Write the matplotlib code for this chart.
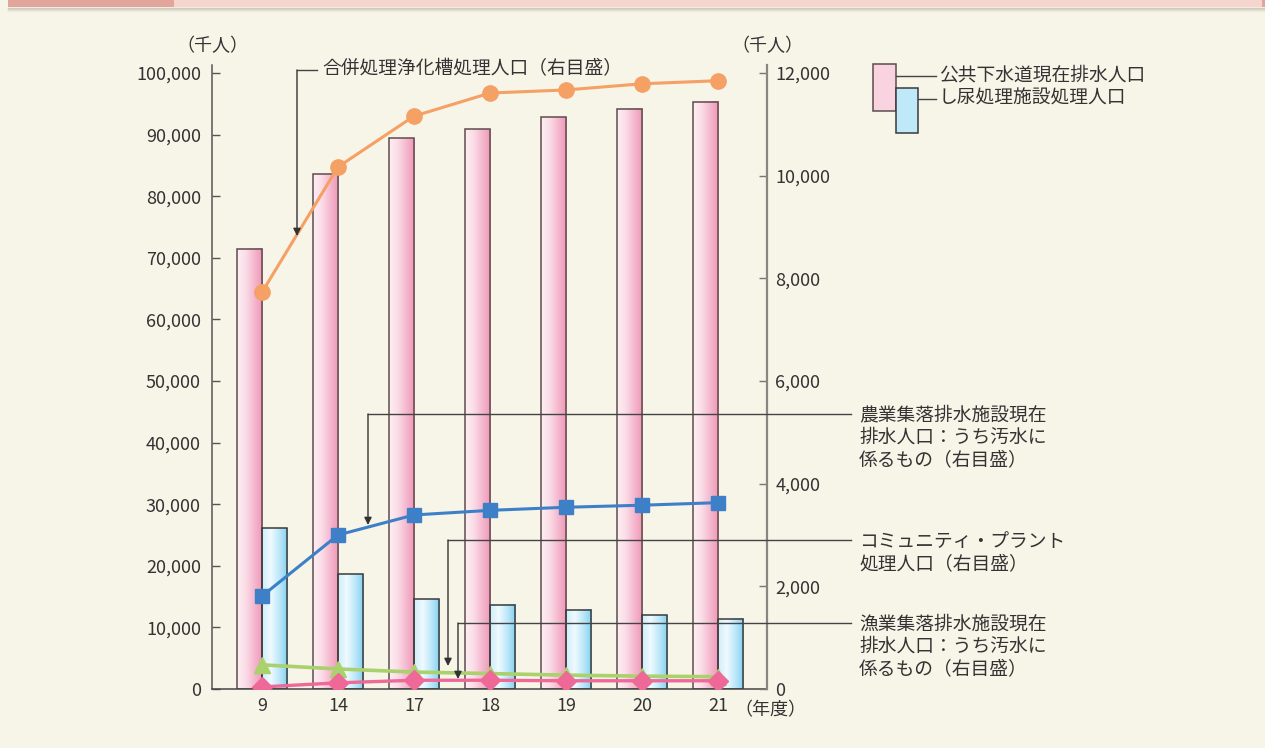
import numpy as np
import matplotlib.pyplot as plt
from matplotlib.colors import LinearSegmentedColormap
from matplotlib.ticker import FuncFormatter
from matplotlib.patches import Rectangle

plt.rcParams['font.family'] = ['Noto Sans CJK JP', 'DejaVu Sans']

# データ（千人）
years = ['9', '14', '17', '18', '19', '20', '21']
kokyo_gesuido = [71500, 83600, 89400, 90900, 92800, 94200, 95300]   # 公共下水道現在排水人口（左目盛）
shinyo_shori = [26100, 18600, 14600, 13700, 12900, 12000, 11400]    # し尿処理施設処理人口（左目盛）
gappei_jokaso = [7730, 10170, 11160, 11610, 11670, 11790, 11850]    # 合併処理浄化槽（右目盛）
nogyo_shuraku = [1810, 3000, 3390, 3480, 3540, 3580, 3630]          # 農業集落排水（右目盛）
community_plant = [470, 390, 330, 300, 270, 250, 240]              # コミュニティ・プラント（右目盛）
gyogyo_shuraku = [40, 120, 170, 170, 160, 160, 160]                 # 漁業集落排水（右目盛）

BG = '#f7f4e8'
TXT = '#333333'

fig = plt.figure(figsize=(12.65, 7.48), dpi=100, facecolor=BG)
ax = fig.add_axes([0.1676, 0.0789, 0.4387, 0.8342])
ax.set_facecolor(BG)

x = np.arange(len(years))
w = 0.33
pink_cmap = LinearSegmentedColormap.from_list('pk', ['#fdeef3', '#fbdde7', '#f5b8ce', '#ef98b8'])
blue_cmap = LinearSegmentedColormap.from_list('bl', ['#cdeefb', '#effafe', '#bde8f9', '#86d1f1'])
grad = np.linspace(0, 1, 64).reshape(1, -1)

def gradient_bars(bars, cmap):
    for r in bars:
        x0, y0 = r.get_xy()
        ax.imshow(grad, extent=[x0, x0 + r.get_width(), y0, y0 + r.get_height()],
                  aspect='auto', cmap=cmap, zorder=1.5, interpolation='bilinear')

b1 = ax.bar(x - w / 2, kokyo_gesuido, w, facecolor='none', edgecolor='#5e4c4c', linewidth=1.1, zorder=2)
b2 = ax.bar(x + w / 2, shinyo_shori, w, facecolor='none', edgecolor='#3a3a3a', linewidth=1.1, zorder=2)
gradient_bars(b1, pink_cmap)
gradient_bars(b2, blue_cmap)

ax.set_xlim(-0.658, 6.645)
ax.set_ylim(0, 101300)
ax.set_yticks(np.arange(0, 100001, 10000))
fmt = FuncFormatter(lambda v, p: f'{int(v):,}')
ax.yaxis.set_major_formatter(fmt)
ax.set_xticks(x)
ax.set_xticklabels(years)
ax.tick_params(axis='x', length=0, pad=6, labelsize=13, colors=TXT)
ax.tick_params(axis='y', direction='in', length=6, width=1, pad=8, labelsize=13,
               colors='#555555', labelcolor=TXT)
for s in ['top', 'right']:
    ax.spines[s].set_visible(False)
ax.spines['left'].set_color('#555555')
ax.spines['bottom'].set_color('#444444')
ax.spines['left'].set_linewidth(1.1)
ax.spines['bottom'].set_linewidth(1.1)

ax2 = ax.twinx()
ax2.set_ylim(0, 12156)
ax2.set_yticks(np.arange(0, 12001, 2000))
ax2.yaxis.set_major_formatter(fmt)
ax2.tick_params(axis='y', direction='in', length=6, width=1, pad=6, labelsize=13,
                colors='#777777', labelcolor=TXT)
for s in ['top', 'left', 'bottom']:
    ax2.spines[s].set_visible(False)
ax2.spines['right'].set_color('#8a8580')
ax2.spines['right'].set_linewidth(1.6)

ax2.plot(x, gappei_jokaso, color='#f5a064', lw=2.2, marker='o', ms=11, zorder=3)
ax2.plot(x, nogyo_shuraku, color='#3d80c8', lw=2.2, marker='s', ms=9.5, zorder=3)
ax2.plot(x, community_plant, color='#a9d16c', lw=2.6, marker='^', ms=11, zorder=3)
ax2.plot(x, gyogyo_shuraku, color='#ee6898', lw=2.4, marker='D', ms=10, zorder=4)

# 注記・凡例（ピクセル座標のオーバーレイ）
ov = fig.add_axes([0, 0, 1, 1], zorder=10)
ov.set_xlim(0, 1265)
ov.set_ylim(748, 0)
ov.axis('off')
ov.patch.set_alpha(0)

# 上部の帯
ov.add_patch(Rectangle((8, 0), 1257, 7, facecolor='#f5d5ce', edgecolor='none'))
ov.add_patch(Rectangle((8, 0), 166, 7, facecolor='#e1a59b', edgecolor='none'))
ov.add_patch(Rectangle((1262, 0), 3, 7, facecolor='#e1a59b', edgecolor='none'))
for i, a in enumerate([0.35, 0.22, 0.12, 0.05]):
    ov.plot([8, 1265], [7.5 + i, 7.5 + i], color='#8a8a78', alpha=a, lw=1)

ov.text(212, 46, '（千人）', ha='center', va='center', fontsize=13, color=TXT)
ov.text(767, 46, '（千人）', ha='center', va='center', fontsize=13, color=TXT)
ov.text(734, 710, '（年度）', ha='left', va='center', fontsize=13, color=TXT)

arrow = dict(arrowstyle='-|>', lw=1, color='#333333', mutation_scale=11, shrinkA=0, shrinkB=0)
lc = '#444444'

# 合併処理浄化槽
ov.plot([297, 317], [70, 70], color=lc, lw=1)
ov.annotate('', xy=(297, 236), xytext=(297, 70), arrowprops=arrow)
ov.text(322, 69, '合併処理浄化槽処理人口（右目盛）', ha='left', va='center', fontsize=13.5, color=TXT)

# 右側の注記
notes = [
    (414, 368, 525, ['農業集落排水施設現在', '排水人口：うち汚水に', '係るもの（右目盛）']),
    (540, 448, 666, ['コミュニティ・プラント', '処理人口（右目盛）']),
    (623, 458, 679, ['漁業集落排水施設現在', '排水人口：うち汚水に', '係るもの（右目盛）']),
]
for yl, xv, ytip, lines in notes:
    ov.plot([xv, 851], [yl, yl], color=lc, lw=1)
    ov.annotate('', xy=(xv, ytip), xytext=(xv, yl), arrowprops=arrow)
    for k, t in enumerate(lines):
        ov.text(859, yl + 1 + k * 22.5, t, ha='left', va='center', fontsize=13.5, color=TXT)

# 凡例
ov.add_patch(Rectangle((873, 64), 23, 47, facecolor='#f9d3e0', edgecolor='#5e4c4c', lw=1.1))
ov.add_patch(Rectangle((896, 88), 22, 45, facecolor='#bfe8f8', edgecolor='#3a3a3a', lw=1.1))
ov.plot([896, 936], [76, 76], color=lc, lw=1)
ov.plot([918, 936], [99, 99], color=lc, lw=1)
ov.text(939, 75, '公共下水道現在排水人口', ha='left', va='center', fontsize=13.5, color=TXT)
ov.text(939, 98, 'し尿処理施設処理人口', ha='left', va='center', fontsize=13.5, color=TXT)

fig.savefig('out.png', dpi=100, facecolor=BG)
